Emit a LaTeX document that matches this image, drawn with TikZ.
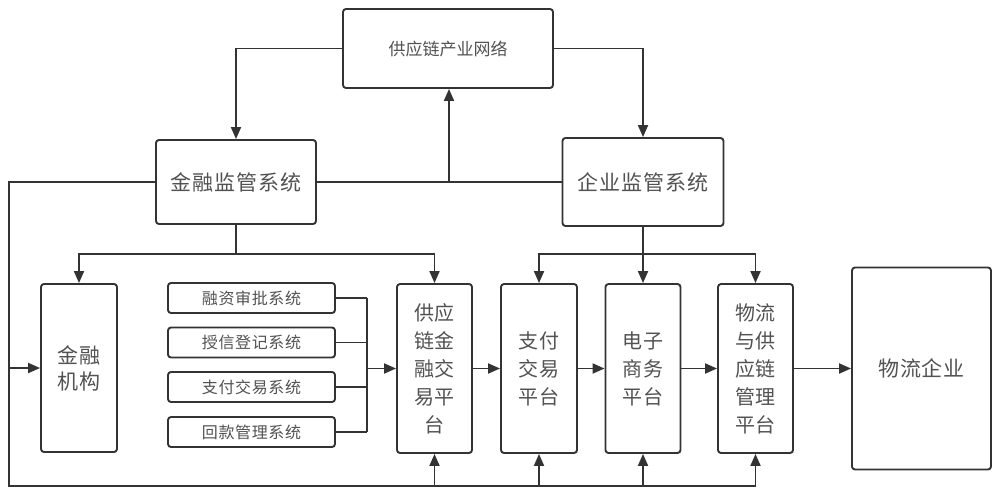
\documentclass[tikz,border=0pt]{standalone}
\usepackage{fontspec}
\setmainfont{Noto Sans CJK SC}
\usetikzlibrary{arrows.meta}
\definecolor{ln}{HTML}{333333}
\definecolor{tx}{HTML}{525252}
\begin{document}
\begin{tikzpicture}[x=1pt,y=-1pt,
  box/.style={draw=ln, line width=1.9pt, rounded corners=3pt, fill=white, inner sep=0pt, text=tx, align=center},
  conn/.style={draw=ln, line width=1.9pt},
  arr/.style={conn, -{Triangle[length=12pt,width=10pt]}},
  big/.style={font=\fontsize{21}{26}\selectfont\addfontfeature{LetterSpace=4}},
  vert/.style={font=\fontsize{20}{28}\selectfont\addfontfeature{LetterSpace=4}},
  small/.style={font=\fontsize{16}{20}\selectfont\addfontfeature{LetterSpace=4}},
]
\useasboundingbox (0,0) rectangle (1000,496);
% nodes
\node[box, minimum width=210pt, minimum height=79pt, font=\fontsize{17}{20}\selectfont] (top) at (448,48.5) {供应链产业网络};
\node[box, big, minimum width=160pt, minimum height=84pt] (fin) at (236,182) {金融监管系统};
\node[box, big, minimum width=161pt, minimum height=88pt] (ent) at (643,182) {企业监管系统};
\node[box, big, minimum width=76pt, minimum height=168pt] (jgjg) at (79,368) {金融\\机构};
\node[box, small, minimum width=167pt, minimum height=30pt] (s1) at (251.5,298) {融资审批系统};
\node[box, small, minimum width=167pt, minimum height=30pt] (s2) at (251.5,342.5) {授信登记系统};
\node[box, small, minimum width=167pt, minimum height=30pt] (s3) at (251.5,387) {支付交易系统};
\node[box, small, minimum width=167pt, minimum height=30pt] (s4) at (251.5,432) {回款管理系统};
\node[box, vert, minimum width=75pt, minimum height=169pt] (scf) at (434.5,368.5) {供应\\链金\\融交\\易平\\台};
\node[box, vert, minimum width=76pt, minimum height=169pt] (pay) at (539,368.5) {支付\\交易\\平台};
\node[box, vert, minimum width=75pt, minimum height=169pt] (ec) at (643,368.5) {电子\\商务\\平台};
\node[box, vert, minimum width=75pt, minimum height=169pt] (lsc) at (755.5,368.5) {物流\\与供\\应链\\管理\\平台};
\node[box, big, minimum width=139pt, minimum height=202pt] (le) at (921.5,368.5) {物流企业};
% coordinates
\coordinate (j1) at (449,182);
\coordinate (cTL) at (9,182);
\coordinate (cML) at (9,368);
\coordinate (cBL) at (9,486);
\coordinate (cBR) at (755.5,486);
\coordinate (fb) at (236,254);
\coordinate (eb) at (643,254);
\coordinate (bus) at (367,368.5);
\coordinate (bt) at (367,298);
\coordinate (bb) at (367,432);
% top links
\draw[arr] (top.west) -| (fin.north);
\draw[arr] (top.east) -| (ent.north);
\draw[conn] (fin.east) -- (ent.west);
\draw[arr] (j1) -- (j1 |- top.south);
% left feedback
\draw[conn] (fin.west) -- (cTL) -- (cBL) -- (cBR);
\draw[arr] (cML) -- (jgjg.west);
% fin branches
\draw[conn] (fin.south) -- (fb);
\draw[arr] (fb) -| (jgjg.north);
\draw[arr] (fb) -| (scf.north);
% ent branches
\draw[conn] (ent.south) -- (eb);
\draw[arr] (eb) -| (pay.north);
\draw[arr] (eb) -- (ec.north);
\draw[arr] (eb) -| (lsc.north);
% small systems bus
\draw[conn] (s1.east) -- (bt);
\draw[conn] (s2.east) -- (s2.east -| bus);
\draw[conn] (s3.east) -- (s3.east -| bus);
\draw[conn] (s4.east) -- (bb);
\draw[conn] (bt) -- (bb);
\draw[arr] (bus) -- (scf.west);
% chain
\draw[arr] (scf.east) -- (pay.west);
\draw[arr] (pay.east) -- (ec.west);
\draw[arr] (ec.east) -- (lsc.west);
\draw[arr] (lsc.east) -- (le.west);
% bottom arrows up
\draw[arr] (scf.south |- cBL) -- (scf.south);
\draw[arr] (pay.south |- cBL) -- (pay.south);
\draw[arr] (ec.south |- cBL) -- (ec.south);
\draw[arr] (cBR) -- (lsc.south);
\end{tikzpicture}
\end{document}
